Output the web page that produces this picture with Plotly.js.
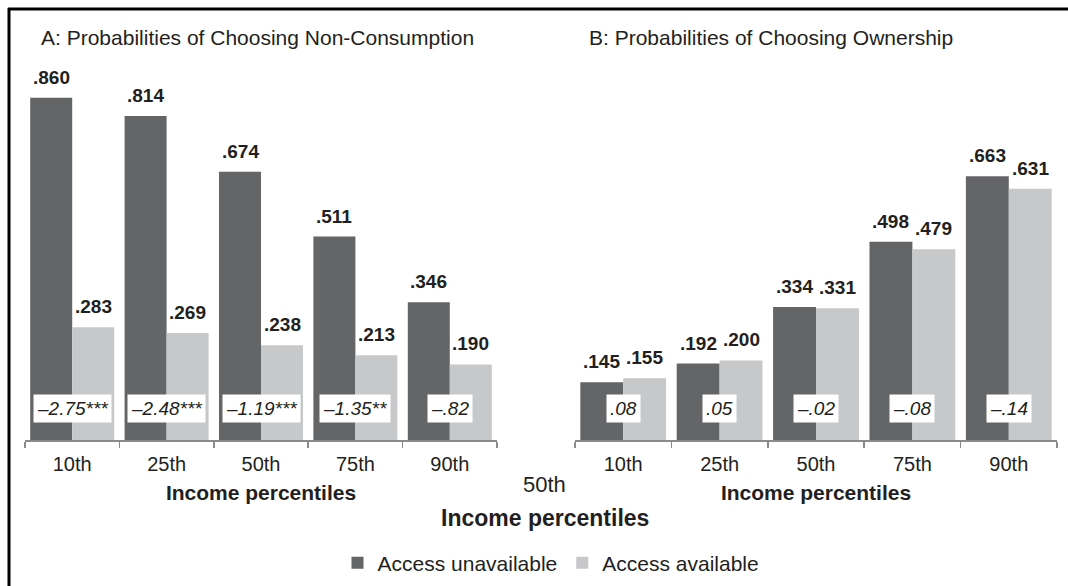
<!DOCTYPE html>
<html>
<head>
<meta charset="utf-8">
<script src="https://cdn.plot.ly/plotly-3.0.1.min.js"></script>
<style>html,body{margin:0;padding:0;background:#fff;}#chart{width:1068px;height:586px;}</style>
</head>
<body>
<div id="chart"></div>
<script>
// ---- data ----
const categories = ['10th', '25th', '50th', '75th', '90th'];
const nonConsUnavailable = [0.860, 0.814, 0.674, 0.511, 0.346];
const nonConsAvailable   = [0.283, 0.269, 0.238, 0.213, 0.190];
const ownUnavailable     = [0.145, 0.192, 0.334, 0.498, 0.663];
const ownAvailable       = [0.155, 0.200, 0.331, 0.479, 0.631];
const nonConsDiff = ['–2.75***', '–2.48***', '–1.19***', '–1.35**', '–.82'];
const ownDiff     = ['.08', '.05', '–.02', '–.08', '–.14'];
const seriesNames = ['Access unavailable', 'Access available'];
const panelTitles = ['A: Probabilities of Choosing Non-Consumption', 'B: Probabilities of Choosing Ownership'];
const axisTitle = 'Income percentiles';

// ---- style ----
const FONT = 'Arial, "Liberation Sans", Helvetica, sans-serif';
const TXT = '#231f20';
const DARK = '#646567';
const LIGHT = '#c7c8ca';
const BARGAP = 0.11;
const halfOffset = (1 - BARGAP) / 4; // center offset of each bar in a group
const W = 1068, H = 586;
const py = p => 1 - p / H;
const px = p => p / W;

function barTrace(y, name, color, xa, ya, showlegend) {
  return {
    type: 'bar', x: categories, y: y, name: name,
    marker: {color: color, line: {width: 0}},
    xaxis: xa, yaxis: ya, showlegend: showlegend, legendgroup: name,
    hoverinfo: 'skip'
  };
}

const data = [
  barTrace(nonConsUnavailable, seriesNames[0], DARK, 'x', 'y', true),
  barTrace(nonConsAvailable, seriesNames[1], LIGHT, 'x', 'y', true),
  barTrace(ownUnavailable, seriesNames[0], DARK, 'x2', 'y2', false),
  barTrace(ownAvailable, seriesNames[1], LIGHT, 'x2', 'y2', false)
];

const fmt = v => v.toFixed(3).replace(/^0/, '');
const annotations = [];
function valueLabels(vals, xref, yref, sign) {
  vals.forEach((v, i) => {
    annotations.push({
      x: i + sign * halfOffset, y: v, xref: xref, yref: yref,
      text: '<b>' + fmt(v) + '</b>', showarrow: false,
      xanchor: 'center', yanchor: 'bottom', yshift: 8,
      font: {family: FONT, size: 19, color: TXT}
    });
  });
}
valueLabels(nonConsUnavailable, 'x', 'y', -1);
valueLabels(nonConsAvailable, 'x', 'y', 1);
valueLabels(ownUnavailable, 'x2', 'y2', -1);
valueLabels(ownAvailable, 'x2', 'y2', 1);

function diffBoxes(labels, xref) {
  labels.forEach((t, i) => {
    annotations.push({
      x: i, y: py(408.5), xref: xref, yref: 'paper',
      text: '<i>' + t + '</i>', showarrow: false,
      xanchor: 'center', yanchor: 'middle',
      bgcolor: '#ffffff', borderpad: 3,
      font: {family: FONT, size: 19, color: TXT}
    });
  });
}
diffBoxes(nonConsDiff, 'x');
diffBoxes(ownDiff, 'x2');

// panel titles
annotations.push({x: px(39), y: py(38), xref: 'paper', yref: 'paper', xanchor: 'left', yanchor: 'middle',
  text: panelTitles[0], showarrow: false, font: {family: FONT, size: 21, color: TXT}});
annotations.push({x: px(587), y: py(38), xref: 'paper', yref: 'paper', xanchor: 'left', yanchor: 'middle',
  text: panelTitles[1], showarrow: false, font: {family: FONT, size: 21, color: TXT}});
// stray label and overall axis title
annotations.push({x: px(544), y: py(484), xref: 'paper', yref: 'paper', xanchor: 'center', yanchor: 'middle',
  text: categories[2], showarrow: false, font: {family: FONT, size: 22, color: TXT}});
annotations.push({x: px(545), y: py(518), xref: 'paper', yref: 'paper', xanchor: 'center', yanchor: 'middle',
  text: '<b>' + axisTitle + '</b>', showarrow: false, font: {family: FONT, size: 23, color: TXT}});

function xaxis(domain) {
  return {
    domain: domain, type: 'category', range: [-0.5, 4.5], fixedrange: true,
    showline: true, linecolor: '#8a8a8a', linewidth: 1.5,
    ticks: 'outside', tickson: 'boundaries', ticklen: 6, tickcolor: '#8a8a8a', tickwidth: 1.5,
    ticklabelstandoff: 5,
    showgrid: false, zeroline: false,
    tickfont: {family: FONT, size: 20, color: TXT},
    title: {text: '<b>' + axisTitle + '</b>', font: {family: FONT, size: 21, color: TXT}, standoff: 12}
  };
}
function yaxis(anchor) {
  return {
    domain: [py(440), py(60)], range: [0, 380 / 398], anchor: anchor,
    visible: false, showgrid: false, zeroline: false, fixedrange: true
  };
}

const layout = {
  width: W, height: H,
  margin: {l: 0, r: 0, t: 0, b: 0},
  paper_bgcolor: '#ffffff', plot_bgcolor: 'rgba(0,0,0,0)',
  barmode: 'group', bargap: BARGAP, bargroupgap: 0,
  font: {family: FONT, color: TXT},
  xaxis: Object.assign(xaxis([px(25), px(497)]), {anchor: 'y'}),
  yaxis: yaxis('x'),
  xaxis2: Object.assign(xaxis([px(575), px(1057)]), {anchor: 'y2'}),
  yaxis2: yaxis('x2'),
  showlegend: true,
  legend: {
    orientation: 'h', x: px(551), y: py(563), xanchor: 'center', yanchor: 'middle',
    font: {family: FONT, size: 21, color: TXT}, bgcolor: 'rgba(0,0,0,0)', itemclick: false, itemdoubleclick: false
  },
  annotations: annotations,
  shapes: [
    {type: 'line', xref: 'paper', yref: 'paper', x0: px(8), x1: 1, y0: py(9), y1: py(9), line: {color: '#000', width: 3}},
    {type: 'line', xref: 'paper', yref: 'paper', x0: px(9), x1: px(9), y0: py(8), y1: 0, line: {color: '#000', width: 3}}
  ]
};

Plotly.newPlot('chart', data, layout, {displayModeBar: false, staticPlot: true});
</script>
</body>
</html>
